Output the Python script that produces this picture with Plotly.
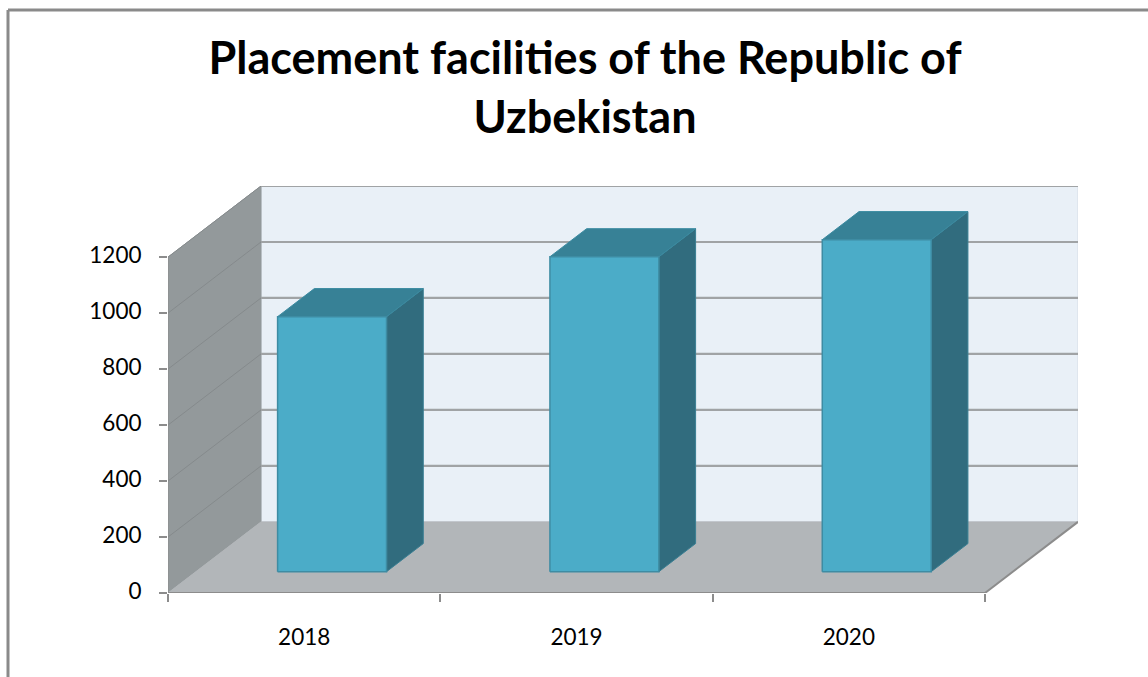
import plotly.graph_objects as go

title_lines = ["Placement facilities of the Republic of", "Uzbekistan"]
years = ["2018", "2019", "2020"]
facilities = [911, 1125, 1186]
y_ticks = [0, 200, 400, 600, 800, 1000, 1200]

# oblique projection: how far the back of the 3-D box is shifted, in axis units
DEPTH_X = 0.3415
DEPTH_Y = 254
BAR_WIDTH = 0.4
BAR_NEAR = 0.3
BAR_FAR = 0.695
Y_MAX = 1200
N = len(years)
X0, X1 = 0.5, N + 0.5


def proj(x, y, d):
    return x + d * DEPTH_X, y + d * DEPTH_Y


def poly(points, fill, line=None, width=1):
    xs, ys = zip(*points)
    return go.Scatter(
        x=list(xs) + [xs[0]], y=list(ys) + [ys[0]], mode="lines", fill="toself",
        fillcolor=fill, line=dict(color=line or fill, width=width),
        hoverinfo="skip", showlegend=False, cliponaxis=False,
    )


def seg(a, b, color, width):
    return go.Scatter(
        x=[a[0], b[0]], y=[a[1], b[1]], mode="lines",
        line=dict(color=color, width=width),
        hoverinfo="skip", showlegend=False, cliponaxis=False,
    )


fig = go.Figure()
# walls and floor
fig.add_trace(poly([proj(X0, 0, 1), proj(X1, 0, 1), proj(X1, Y_MAX, 1), proj(X0, Y_MAX, 1)], "#E9F0F7", "#D5DDE5"))
fig.add_trace(poly([proj(X0, 0, 0), proj(X0, 0, 1), proj(X0, Y_MAX, 1), proj(X0, Y_MAX, 0)], "#93999B"))
fig.add_trace(poly([proj(X0, 0, 0), proj(X1, 0, 0), proj(X1, 0, 1), proj(X0, 0, 1)], "#B2B6B9"))
# gridlines on both walls
for t in y_ticks:
    if t > 0:
        fig.add_trace(seg(proj(X0, t, 0), proj(X0, t, 1), "#858A8C", 1))
        fig.add_trace(seg(proj(X0, t, 1), proj(X1, t, 1), "#A0A3A5", 2.2))
# floor edges and axis line
fig.add_trace(seg(proj(X1, 0, 0), proj(X1, 0, 1), "#8C8C8C", 2))
fig.add_trace(seg(proj(X0, 0, 0), proj(X1, 0, 0), "#8C8C8C", 2))
fig.add_trace(seg(proj(X0, 0, 0), proj(X0, Y_MAX, 0), "#8C8C8C", 1))
# bars
for i, v in enumerate(facilities):
    l, r = i + 1 - BAR_WIDTH / 2, i + 1 + BAR_WIDTH / 2
    fig.add_trace(poly([proj(r, 0, BAR_NEAR), proj(r, 0, BAR_FAR), proj(r, v, BAR_FAR), proj(r, v, BAR_NEAR)], "#316C7E", "#3A7F93"))
    fig.add_trace(poly([proj(l, v, BAR_NEAR), proj(r, v, BAR_NEAR), proj(r, v, BAR_FAR), proj(l, v, BAR_FAR)], "#378196", "#3A8AA0"))
    fig.add_trace(poly([proj(l, 0, BAR_NEAR), proj(r, 0, BAR_NEAR), proj(r, v, BAR_NEAR), proj(l, v, BAR_NEAR)], "#4BACC8", "#3E8CA3", 1.5))

FONT = "Lato, 'Open Sans', sans-serif"
fig.update_layout(
    width=1148, height=677, autosize=False,
    margin=dict(l=168, r=70, t=186, b=84),
    paper_bgcolor="white", plot_bgcolor="white",
    font=dict(family=FONT, color="black"),
    title=dict(
        text="<br>".join(title_lines), x=585 / 1148, xanchor="center", y=0.89, yanchor="top",
        font=dict(size=45, family=FONT, weight="bold", color="black"),
    ),
    showlegend=False,
    xaxis=dict(
        range=[X0, X1 + DEPTH_X], showgrid=False, zeroline=False, showline=False,
        tickmode="array", tickvals=[1, 2, 3], ticktext=years, ticks="outside", ticklen=0,
        ticklabelstandoff=24, tickfont=dict(size=22.5, family=FONT, color="black"),
        minor=dict(tickmode="array", tickvals=[0.5, 1.5, 2.5, 3.5], ticks="outside",
                   ticklen=8, tickwidth=2, tickcolor="#8C8C8C", showgrid=False),
    ),
    yaxis=dict(
        range=[0, Y_MAX + DEPTH_Y], showgrid=False, zeroline=False, showline=False,
        tickmode="array", tickvals=y_ticks, ticks="outside", ticklen=8, tickwidth=2, tickcolor="#8C8C8C",
        ticklabelstandoff=13, ticklabelshift=-2, tickfont=dict(size=22.5, family=FONT, color="black"),
    ),
    shapes=[
        dict(type="line", xref="paper", yref="paper", x0=-160 / 910, x1=980 / 910, y0=(593 - 10) / 407, y1=(593 - 10) / 407,
             line=dict(color="#8A8A8A", width=3)),
        dict(type="line", xref="paper", yref="paper", x0=-160 / 910, x1=-160 / 910, y0=(593 - 10) / 407, y1=(593 - 677) / 407,
             line=dict(color="#8A8A8A", width=3)),
    ],
)

fig.write_html("out.html", config=dict(displayModeBar=False), post_script="document.body.style.margin='0';")
